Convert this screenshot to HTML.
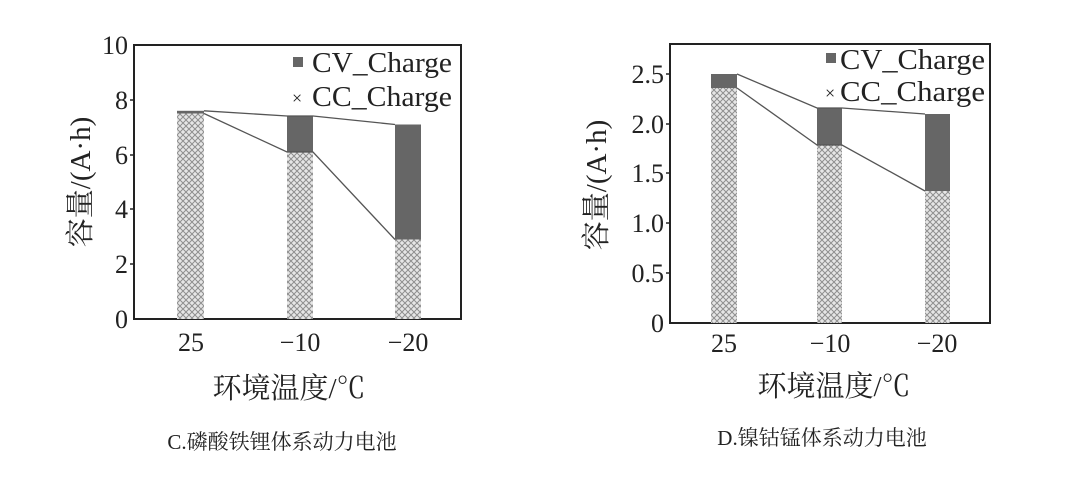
<!DOCTYPE html>
<html><head><meta charset="utf-8"><style>
html,body{margin:0;padding:0;background:#fff;}
svg text{font-family:"Liberation Serif","Noto Serif CJK SC",serif;fill:#222;}
</style></head><body>
<svg width="1076" height="487" viewBox="0 0 1076 487" xmlns="http://www.w3.org/2000/svg">
<defs>
<pattern id="h" width="6" height="6" patternUnits="userSpaceOnUse">
<rect width="6" height="6" fill="#e6e6e6"/>
<path d="M0,0L6,6M6,0L0,6" stroke="#8f8f8f" stroke-width="1"/>
</pattern>
</defs>
<rect width="1076" height="487" fill="#fff"/>
<!-- Left chart -->
<g>
<rect x="134" y="45" width="327" height="274" fill="none" stroke="#222" stroke-width="2"/>
<g font-size="26" text-anchor="end">
<text x="128" y="328">0</text><text x="128" y="273">2</text><text x="128" y="218">4</text><text x="128" y="164">6</text><text x="128" y="109">8</text><text x="128" y="54">10</text>
</g>
<g stroke="#222" stroke-width="1.5"><line x1="130" y1="264" x2="134" y2="264"/><line x1="130" y1="209" x2="134" y2="209"/><line x1="130" y1="155" x2="134" y2="155"/><line x1="130" y1="100" x2="134" y2="100"/></g>
<rect x="177" y="113.5" width="27" height="205.5" fill="url(#h)"/>
<rect x="177" y="110.8" width="27" height="2.7" fill="#666"/>
<rect x="287" y="152" width="26" height="167" fill="url(#h)"/>
<rect x="287" y="116" width="26" height="36" fill="#666"/>
<rect x="395" y="239.5" width="26" height="79.5" fill="url(#h)"/>
<rect x="395" y="124.5" width="26" height="115" fill="#666"/>
<polyline points="204,110.8 287,116 313,116 395,124.5" fill="none" stroke="#555" stroke-width="1.3"/>
<polyline points="204,113.5 287,152 313,152 395,239.5" fill="none" stroke="#555" stroke-width="1.3"/>
<rect x="293" y="57" width="10" height="10" fill="#666"/>
<text x="312" y="72" font-size="29" textLength="140" lengthAdjust="spacingAndGlyphs">CV_Charge</text>
<text x="292" y="104" font-size="18" fill="#aaa">×</text>
<text x="312" y="106" font-size="29" textLength="140" lengthAdjust="spacingAndGlyphs">CC_Charge</text>
<g font-size="26" text-anchor="middle"><text x="191" y="351">25</text><text x="300" y="351">−10</text><text x="408" y="351">−20</text></g>
<text x="289" y="398" font-size="29" text-anchor="middle">环境温度/℃</text>
<text x="282" y="449" font-size="21" text-anchor="middle">C.磷酸铁锂体系动力电池</text>
<text transform="translate(90,182) rotate(-90)" font-size="29" text-anchor="middle">容量/(A·h)</text>
</g>
<!-- Right chart -->
<g>
<rect x="670" y="44" width="320" height="279" fill="none" stroke="#222" stroke-width="2"/>
<g font-size="26" text-anchor="end">
<text x="664" y="332">0</text><text x="664" y="282">0.5</text><text x="664" y="232">1.0</text><text x="664" y="182">1.5</text><text x="664" y="133">2.0</text><text x="664" y="83">2.5</text>
</g>
<g stroke="#222" stroke-width="1.5"><line x1="666" y1="273" x2="670" y2="273"/><line x1="666" y1="223" x2="670" y2="223"/><line x1="666" y1="173" x2="670" y2="173"/><line x1="666" y1="124" x2="670" y2="124"/><line x1="666" y1="74" x2="670" y2="74"/></g>
<rect x="711" y="88" width="26" height="235" fill="url(#h)"/>
<rect x="711" y="74" width="26" height="14" fill="#666"/>
<rect x="817" y="145" width="25" height="178" fill="url(#h)"/>
<rect x="817" y="108" width="25" height="37" fill="#666"/>
<rect x="925" y="191" width="25" height="132" fill="url(#h)"/>
<rect x="925" y="114" width="25" height="77" fill="#666"/>
<polyline points="737,74 817,108 842,108 925,114" fill="none" stroke="#555" stroke-width="1.3"/>
<polyline points="737,88 817,145 842,145 925,191" fill="none" stroke="#555" stroke-width="1.3"/>
<rect x="826" y="53" width="10" height="10" fill="#666"/>
<text x="840" y="69" font-size="29" textLength="145" lengthAdjust="spacingAndGlyphs">CV_Charge</text>
<text x="825" y="99" font-size="18" fill="#aaa">×</text>
<text x="840" y="101" font-size="29" textLength="145" lengthAdjust="spacingAndGlyphs">CC_Charge</text>
<g font-size="26" text-anchor="middle"><text x="724" y="352">25</text><text x="830" y="352">−10</text><text x="937" y="352">−20</text></g>
<text x="834" y="396" font-size="29" text-anchor="middle">环境温度/℃</text>
<text x="822" y="445" font-size="21" text-anchor="middle">D.镍钴锰体系动力电池</text>
<text transform="translate(606,185) rotate(-90)" font-size="29" text-anchor="middle">容量/(A·h)</text>
</g>
</svg>
</body></html>
